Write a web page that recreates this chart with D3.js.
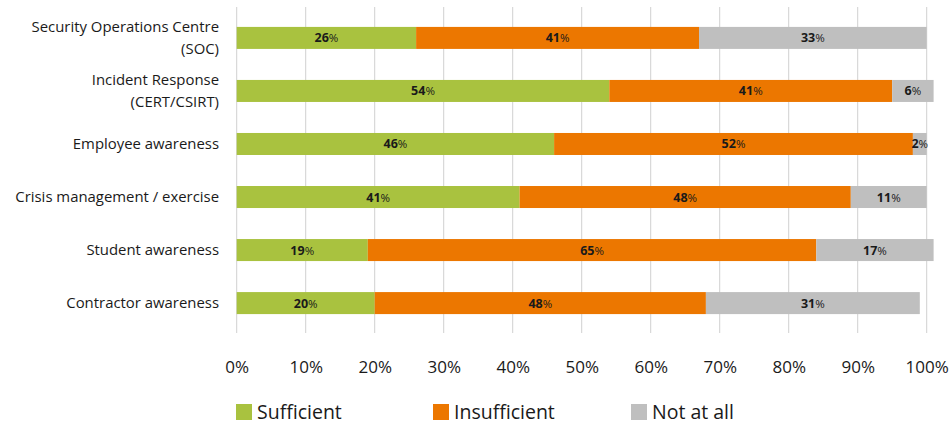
<!DOCTYPE html>
<html><head><meta charset="utf-8">
<script src="https://cdn.jsdelivr.net/npm/d3@7"></script>
<style>body{margin:0;background:#fff;} text{font-family:"Open Sans",sans-serif;fill:#1a1a1a;}</style>
</head><body><svg id="c" width="950" height="425"></svg>
<script>
const categories = [["Security Operations Centre","(SOC)"],["Incident Response","(CERT/CSIRT)"],["Employee awareness"],["Crisis management / exercise"],["Student awareness"],["Contractor awareness"]];
const sufficient   = [26, 54, 46, 41, 19, 20];
const insufficient = [41, 41, 52, 48, 65, 48];
const notAtAll     = [33,  6,  2, 11, 17, 31];
const seriesNames  = ["Sufficient","Insufficient","Not at all"];
const colors       = ["#A9C23F","#EC7700","#BFBFBF"];
const ticks        = [0,10,20,30,40,50,60,70,80,90,100];

const svg = d3.select("#c");
const x = d3.scaleLinear().domain([0,100]).range([236.7,926.7]);
const y = d3.scaleBand().domain(d3.range(categories.length)).range([11,330]).paddingInner(0.585).paddingOuter(0.3);

// gridlines
svg.append("g").selectAll("line").data(ticks).join("line")
  .attr("x1",d=>x(d)).attr("x2",d=>x(d)).attr("y1",7).attr("y2",333)
  .attr("stroke","#d0d0d0").attr("stroke-width",1);

const series = [sufficient, insufficient, notAtAll];
const rows = categories.map((c,i)=>({i, vals: series.map(s=>s[i])}));

rows.forEach(r=>{
  let acc=0;
  r.vals.forEach((v,k)=>{
    const x0=x(acc), x1=x(acc+v);
    svg.append("rect").attr("x",x0).attr("y",y(r.i)).attr("width",x1-x0).attr("height",y.bandwidth()).attr("fill",colors[k]);
    const t=svg.append("text").attr("x",(x0+x1)/2).attr("y",y(r.i)+y.bandwidth()/2).attr("dy","0.36em")
      .attr("text-anchor","middle").style("font-size","12.5px");
    t.append("tspan").attr("font-weight","bold").text(v);
    t.append("tspan").style("font-size","11.5px").text("%");
    acc+=v;
  });
});

// category labels
categories.forEach((c,i)=>{
  const cy=y(i)+y.bandwidth()/2;
  const t=svg.append("text").attr("text-anchor","end").style("font-size","14.9px");
  if(c.length===1){
    t.append("tspan").attr("x",219).attr("y",cy).attr("dy","0.36em").text(c[0]);
  } else {
    t.append("tspan").attr("x",219).attr("y",cy-11).attr("dy","0.36em").text(c[0]);
    t.append("tspan").attr("x",219).attr("y",cy+11).attr("dy","0.36em").text(c[1]);
  }
});

// x axis labels
const ax = svg.append("g").attr("transform","translate(0,367)")
  .call(d3.axisBottom(x).tickValues(ticks).tickFormat(d=>d+"%").tickSize(0).tickPadding(0));
ax.select(".domain").remove();
ax.selectAll("text").attr("dy","0.36em").attr("y",0).style("font-size","17px").style("font-family","'Open Sans',sans-serif").attr("fill","#1a1a1a");

// legend
const legX=[236,433,631];
seriesNames.forEach((n,k)=>{
  svg.append("rect").attr("x",legX[k]).attr("y",404).attr("width",16).attr("height",16).attr("fill",colors[k]);
  svg.append("text").attr("x",legX[k]+21).attr("y",412).attr("dy","0.36em").style("font-size","19.5px").text(n);
});
</script></body></html>
